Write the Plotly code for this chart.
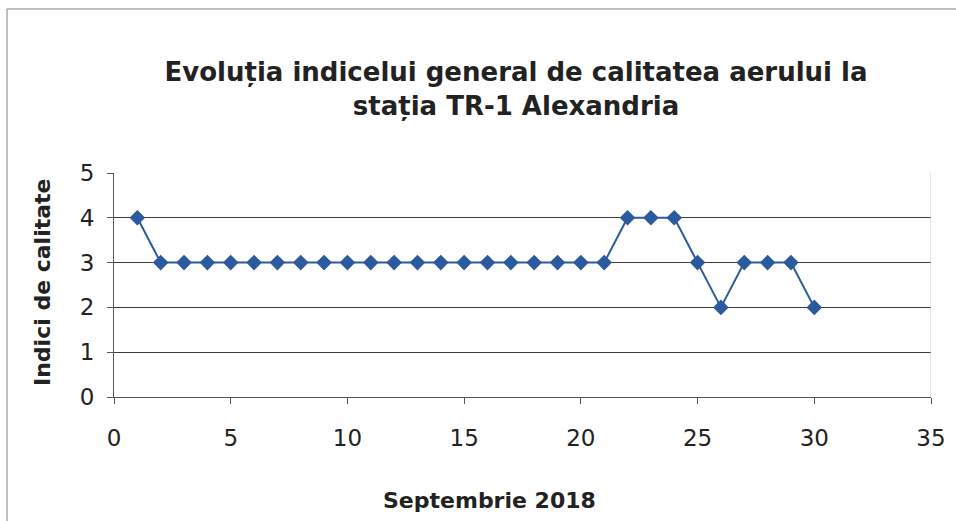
import plotly.graph_objects as go

days = list(range(1, 31))
indici = [4, 3, 3, 3, 3, 3, 3, 3, 3, 3,
          3, 3, 3, 3, 3, 3, 3, 3, 3, 3,
          3, 4, 4, 4, 3, 2, 3, 3, 3, 2]
x_ticks = [0, 5, 10, 15, 20, 25, 30, 35]
y_ticks = [0, 1, 2, 3, 4, 5]

font_family = "DejaVu Sans, Liberation Sans, Arial, sans-serif"
txt = "#222222"

W, H = 956, 521
L, R, T, B = 114, 25, 173, 124
PW, PH = W - L - R, H - T - B


def px(x):
    return (x - L) / PW


def py(y):
    return (H - B - y) / PH


fig = go.Figure()
fig.add_trace(go.Scatter(
    x=days, y=indici, mode="lines+markers",
    line=dict(color="#2b5a9e", width=2),
    marker=dict(symbol="diamond", size=12, color="#2b5a9e"),
    showlegend=False,
))

fig.update_layout(
    width=W, height=H,
    margin=dict(l=L, r=R, t=T, b=B),
    paper_bgcolor="white", plot_bgcolor="white",
    font=dict(family=font_family, color=txt),
    title=dict(
        text="Evoluția indicelui general de calitatea aerului la<br>stația TR-1 Alexandria",
        x=516 / W, xanchor="center", y=1 - 81 / H, yanchor="middle",
        font=dict(size=26, family=font_family, color=txt, weight="bold"),
    ),
    xaxis=dict(
        range=[0, 35], tickvals=x_ticks, showgrid=False, zeroline=False,
        showline=True, linecolor="#555555", linewidth=1,
        ticks="outside", ticklen=6, tickcolor="#555555",
        tickfont=dict(size=23, color=txt), automargin=False,
        ticklabelstandoff=14,
    ),
    yaxis=dict(
        range=[0, 5], tickvals=y_ticks, showgrid=True, gridcolor="#3a3f35",
        gridwidth=1, zeroline=False,
        showline=True, linecolor="#555555", linewidth=1,
        ticks="outside", ticklen=6, tickcolor="#555555",
        tickfont=dict(size=23, color=txt), automargin=False,
        ticklabelstandoff=8,
    ),
    annotations=[
        dict(text="<b>Septembrie 2018</b>", xref="paper", yref="paper",
             x=px(489), y=py(500), xanchor="center", yanchor="middle",
             showarrow=False, font=dict(size=22, color=txt)),
        dict(text="<b>Indici de calitate</b>", xref="paper", yref="paper",
             x=px(42), y=py(283), xanchor="center", yanchor="middle",
             textangle=-90, showarrow=False, font=dict(size=22, color=txt)),
    ],
    shapes=[
        dict(type="line", xref="x", yref="paper", x0=35, x1=35, y0=0, y1=1,
             line=dict(color="#cccccc", width=1)),
        dict(type="line", xref="paper", yref="paper",
             x0=px(7), x1=px(960), y0=py(9), y1=py(9),
             line=dict(color="#aaaaaa", width=1.5), layer="below"),
        dict(type="line", xref="paper", yref="paper",
             x0=px(7), x1=px(7), y0=py(9), y1=py(525),
             line=dict(color="#aaaaaa", width=1.5), layer="below"),
    ],
)

fig.write_html("out.html", post_script="document.body.style.margin='0px';",
               config={"displayModeBar": False})
